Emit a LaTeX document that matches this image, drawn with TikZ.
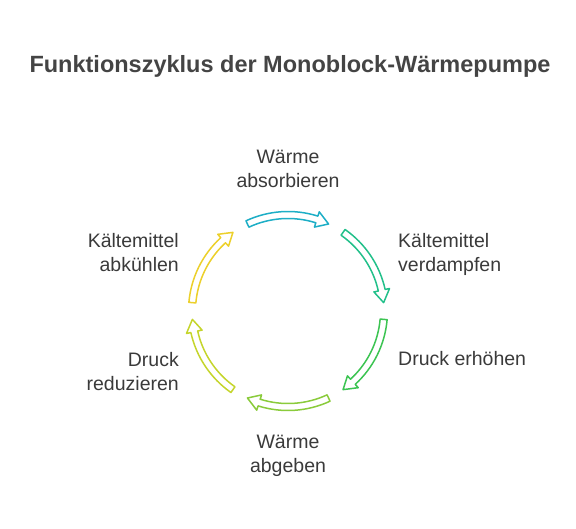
\documentclass[tikz,border=0pt]{standalone}
\usepackage{fontspec}
\setmainfont{Liberation Sans}
\definecolor{txt}{HTML}{3A3A3A}
\definecolor{ttl}{HTML}{444444}
\definecolor{cA}{HTML}{1DAEC6}
\definecolor{cB}{HTML}{22C08A}
\definecolor{cC}{HTML}{3CC452}
\definecolor{cD}{HTML}{8ACB3B}
\definecolor{cE}{HTML}{C5D52C}
\definecolor{cF}{HTML}{ECD02B}
\tikzset{
  lbl/.style={text=txt, font=\fontsize{19.5}{24}\selectfont, inner sep=0pt},
  arw/.style={draw=#1, fill=white, line width=1.5pt, line join=round},
}
\newcommand{\cycarrow}[2]{%
  % #1 center angle, #2 colour
  \pgfmathsetmacro{\sA}{#1+25}%
  \pgfmathsetmacro{\eA}{#1-25}%
  \pgfmathsetmacro{\hA}{#1-17.5}%
  \draw[arw=#2] (\sA:99.5) arc[start angle=\sA, end angle=\hA, radius=99.5]
    -- (\hA:104) -- (\eA:96) -- (\hA:88) -- (\hA:92.5)
    arc[start angle=\hA, end angle=\sA, radius=92.5] -- cycle;}
\begin{document}
\begin{tikzpicture}[x=1pt,y=-1pt]
\useasboundingbox (0,0) rectangle (576,528);
\node[text=ttl, font=\fontsize{23.5}{28}\selectfont\bfseries, inner sep=0pt] (title) at (290,66) {Funktionszyklus der Monoblock-Wärmepumpe};
\begin{scope}[shift={(288,311)}, yscale=-1]
  \cycarrow{90}{cA}
  \cycarrow{30}{cB}
  \cycarrow{-30}{cC}
  \cycarrow{-90}{cD}
  \cycarrow{-150}{cE}
  \cycarrow{150}{cF}
\end{scope}
\node[lbl, align=center, anchor=base] (t1) at (288,187) {Wärme\\absorbieren};
\node[lbl, align=left, anchor=base west] (t2) at (398,271) {Kältemittel\\verdampfen};
\node[lbl, anchor=base west] (t3) at (398,365.5) {Druck erhöhen};
\node[lbl, align=center, anchor=base] (t4) at (288,472.5) {Wärme\\abgeben};
\node[lbl, align=right, anchor=base east] (t5) at (179,390) {Druck\\reduzieren};
\node[lbl, align=right, anchor=base east] (t6) at (179,271) {Kältemittel\\abkühlen};
\end{tikzpicture}
\end{document}
